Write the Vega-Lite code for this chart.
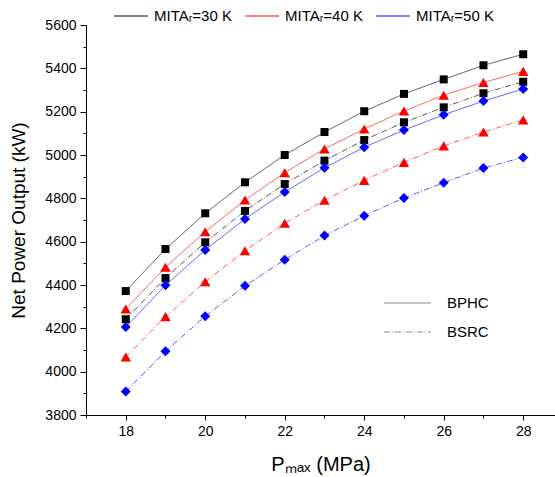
{
  "$schema": "https://vega.github.io/schema/vega-lite/v6.json",
  "autosize": "none",
  "width": 469,
  "height": 390,
  "padding": {"left": 86, "top": 25, "right": 0, "bottom": 62},
  "config": {
    "view": {"stroke": null},
    "font": "Liberation Sans",
    "axis": {"grid": false, "domainColor": "black", "tickColor": "black", "labelColor": "black", "titleColor": "black", "labelFont": "Liberation Sans", "titleFont": "Liberation Sans", "titleFontWeight": "normal", "labelFontSize": 14},
    "legend": {"labelFont": "Liberation Sans", "labelColor": "black"}
  },
  "data": {"values": [
    {"p":18,"mita":30,"cycle":"BPHC","power":4372},{"p":19,"mita":30,"cycle":"BPHC","power":4566},{"p":20,"mita":30,"cycle":"BPHC","power":4731},{"p":21,"mita":30,"cycle":"BPHC","power":4874},{"p":22,"mita":30,"cycle":"BPHC","power":5000},{"p":23,"mita":30,"cycle":"BPHC","power":5106},{"p":24,"mita":30,"cycle":"BPHC","power":5202},{"p":25,"mita":30,"cycle":"BPHC","power":5282},{"p":26,"mita":30,"cycle":"BPHC","power":5349},{"p":27,"mita":30,"cycle":"BPHC","power":5414},{"p":28,"mita":30,"cycle":"BPHC","power":5465},
    {"p":18,"mita":30,"cycle":"BSRC","power":4242},{"p":19,"mita":30,"cycle":"BSRC","power":4432},{"p":20,"mita":30,"cycle":"BSRC","power":4597},{"p":21,"mita":30,"cycle":"BSRC","power":4742},{"p":22,"mita":30,"cycle":"BSRC","power":4866},{"p":23,"mita":30,"cycle":"BSRC","power":4974},{"p":24,"mita":30,"cycle":"BSRC","power":5069},{"p":25,"mita":30,"cycle":"BSRC","power":5151},{"p":26,"mita":30,"cycle":"BSRC","power":5220},{"p":27,"mita":30,"cycle":"BSRC","power":5285},{"p":28,"mita":30,"cycle":"BSRC","power":5338},
    {"p":18,"mita":40,"cycle":"BPHC","power":4289},{"p":19,"mita":40,"cycle":"BPHC","power":4482},{"p":20,"mita":40,"cycle":"BPHC","power":4646},{"p":21,"mita":40,"cycle":"BPHC","power":4792},{"p":22,"mita":40,"cycle":"BPHC","power":4918},{"p":23,"mita":40,"cycle":"BPHC","power":5028},{"p":24,"mita":40,"cycle":"BPHC","power":5120},{"p":25,"mita":40,"cycle":"BPHC","power":5203},{"p":26,"mita":40,"cycle":"BPHC","power":5276},{"p":27,"mita":40,"cycle":"BPHC","power":5335},{"p":28,"mita":40,"cycle":"BPHC","power":5386},
    {"p":18,"mita":40,"cycle":"BSRC","power":4068},{"p":19,"mita":40,"cycle":"BSRC","power":4254},{"p":20,"mita":40,"cycle":"BSRC","power":4415},{"p":21,"mita":40,"cycle":"BSRC","power":4558},{"p":22,"mita":40,"cycle":"BSRC","power":4685},{"p":23,"mita":40,"cycle":"BSRC","power":4791},{"p":24,"mita":40,"cycle":"BSRC","power":4883},{"p":25,"mita":40,"cycle":"BSRC","power":4966},{"p":26,"mita":40,"cycle":"BSRC","power":5042},{"p":27,"mita":40,"cycle":"BSRC","power":5106},{"p":28,"mita":40,"cycle":"BSRC","power":5162},
    {"p":18,"mita":50,"cycle":"BPHC","power":4206},{"p":19,"mita":50,"cycle":"BPHC","power":4399},{"p":20,"mita":50,"cycle":"BPHC","power":4562},{"p":21,"mita":50,"cycle":"BPHC","power":4705},{"p":22,"mita":50,"cycle":"BPHC","power":4829},{"p":23,"mita":50,"cycle":"BPHC","power":4941},{"p":24,"mita":50,"cycle":"BPHC","power":5036},{"p":25,"mita":50,"cycle":"BPHC","power":5115},{"p":26,"mita":50,"cycle":"BPHC","power":5186},{"p":27,"mita":50,"cycle":"BPHC","power":5249},{"p":28,"mita":50,"cycle":"BPHC","power":5305},
    {"p":18,"mita":50,"cycle":"BSRC","power":3908},{"p":19,"mita":50,"cycle":"BSRC","power":4094},{"p":20,"mita":50,"cycle":"BSRC","power":4256},{"p":21,"mita":50,"cycle":"BSRC","power":4396},{"p":22,"mita":50,"cycle":"BSRC","power":4517},{"p":23,"mita":50,"cycle":"BSRC","power":4628},{"p":24,"mita":50,"cycle":"BSRC","power":4720},{"p":25,"mita":50,"cycle":"BSRC","power":4802},{"p":26,"mita":50,"cycle":"BSRC","power":4872},{"p":27,"mita":50,"cycle":"BSRC","power":4940},{"p":28,"mita":50,"cycle":"BSRC","power":4989}
  ]},
  "encoding": {
    "x": {
      "field": "p", "type": "quantitative",
      "scale": {"domain": [17, 28.8], "nice": false, "zero": false},
      "axis": {
        "values": [17,18,19,20,21,22,23,24,25,26,27,28],
        "labelExpr": "datum.value % 2 === 0 ? datum.label : ''",
        "tickSize": {"condition": {"test": "datum.value % 2 === 0", "value": 5}, "value": 3},
        "labelPadding": 4, "title": "Pₘₐₓ (MPa)", "titleFontSize": 20, "titlePadding": 16
      }
    },
    "y": {
      "field": "power", "type": "quantitative",
      "scale": {"domain": [3800, 5600], "nice": false, "zero": false},
      "axis": {
        "values": [3800,3900,4000,4100,4200,4300,4400,4500,4600,4700,4800,4900,5000,5100,5200,5300,5400,5500,5600],
        "labelExpr": "datum.value % 200 === 0 ? datum.label : ''",
        "format": "d",
        "tickSize": {"condition": {"test": "datum.value % 200 === 0", "value": 6}, "value": 3},
        "labelPadding": 4, "title": "Net Power Output (kW)", "titleFontSize": 19, "titlePadding": 16
      }
    }
  },
  "layer": [
    {
      "mark": {"type": "line", "strokeWidth": 1, "opacity": 0.65},
      "encoding": {
        "color": {
          "field": "mita", "type": "nominal",
          "scale": {"domain": [30, 40, 50], "range": ["black", "red", "blue"]},
          "legend": {
            "orient": "none", "legendX": 27, "legendY": -27, "direction": "horizontal", "title": null,
            "symbolSize": 1156, "labelFontSize": 15, "labelOffset": 5, "columnPadding": 10,
            "labelExpr": "'MITAᵣ=' + datum.label + ' K'"
          }
        },
        "strokeDash": {
          "field": "cycle", "type": "nominal",
          "scale": {"domain": ["BPHC", "BSRC"], "range": [[1, 0], [6, 2, 1, 2]]},
          "legend": {
            "orient": "none", "legendX": 297, "legendY": 270, "title": null,
            "symbolType": "stroke", "symbolSize": 2209, "clipHeight": 16,
            "labelFontSize": 15, "labelOffset": 15, "rowPadding": 13
          }
        }
      }
    },
    {
      "transform": [{"filter": "datum.mita == 30"}],
      "mark": {"type": "point", "filled": true, "opacity": 1, "shape": "square", "size": 64},
      "encoding": {"color": {"field": "mita", "type": "nominal"}}
    },
    {
      "transform": [{"filter": "datum.mita == 40"}],
      "mark": {"type": "point", "filled": true, "opacity": 1, "shape": "triangle-up", "size": 110},
      "encoding": {"color": {"field": "mita", "type": "nominal"}}
    },
    {
      "transform": [{"filter": "datum.mita == 50"}],
      "mark": {"type": "point", "filled": true, "opacity": 1, "shape": "diamond", "size": 100},
      "encoding": {"color": {"field": "mita", "type": "nominal"}}
    }
  ]
}
